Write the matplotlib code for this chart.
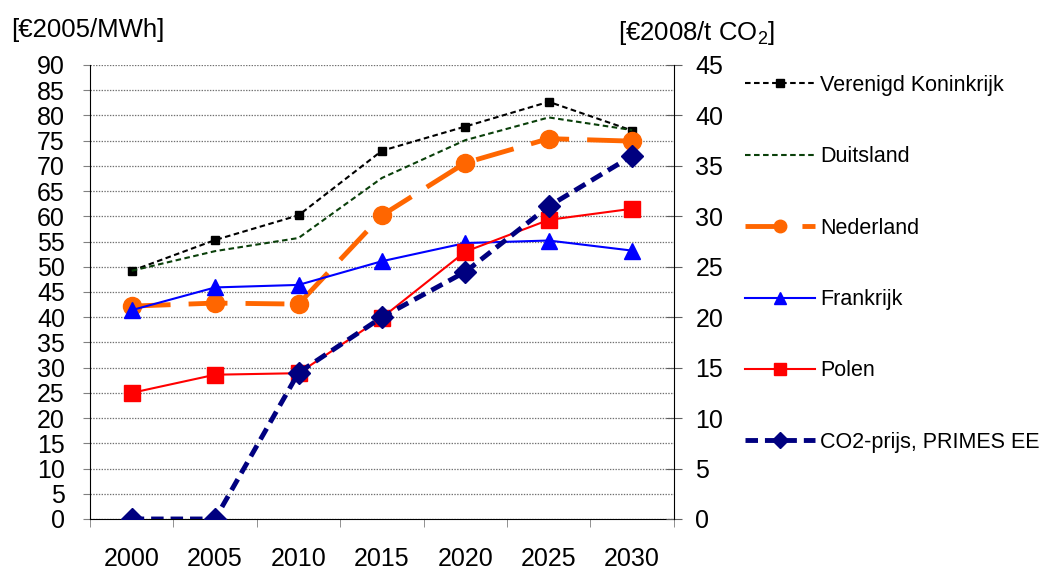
import numpy as np
import matplotlib
matplotlib.use("Agg")
from matplotlib import pyplot as plt

plt.rcParams['font.family'] = ['Liberation Sans', 'DejaVu Sans']
plt.rcParams['mathtext.fontset'] = 'custom'
plt.rcParams['mathtext.rm'] = 'Liberation Sans'
plt.rcParams['lines.scale_dashes'] = False

years = ['2000', '2005', '2010', '2015', '2020', '2025', '2030']

# Electricity prices [EUR2005/MWh], left axis
uk = [49.2, 55.3, 60.2, 73.0, 77.8, 82.7, 77.0]
germany = [49.2, 53.1, 55.7, 67.6, 75.1, 79.6, 77.1]
netherlands = [42.2, 42.8, 42.6, 60.2, 70.6, 75.4, 74.9]
france = [41.4, 45.9, 46.4, 51.1, 54.7, 55.2, 53.2]
poland = [25.0, 28.6, 28.9, 39.9, 53.0, 59.3, 61.5]

# CO2 price [EUR2008/t CO2], right axis
co2_price = [0.0, 0.0, 14.5, 20.0, 24.5, 31.0, 36.0]

x = np.arange(len(years))

fig = plt.figure(figsize=(10.39, 5.72), dpi=100)
ax = fig.add_axes([0.0866, 0.0927, 0.562, 0.7937])
ax2 = ax.twinx()

ax.plot(x, uk, color='black', lw=1.5, dashes=(4, 2.5), marker='s', ms=6,
        label='Verenigd Koninkrijk')
ax.plot(x, germany, color='#0a400a', lw=1.5, dashes=(4, 2.5),
        label='Duitsland')
ax.plot(x, netherlands, color='#ff6600', lw=3.5, dashes=(28, 13), marker='o', ms=13,
        label='Nederland')
ax.plot(x, france, color='#0000ff', lw=1.5, marker='^', ms=12,
        label='Frankrijk')
ax.plot(x, poland, color='#ff0000', lw=1.5, marker='s', ms=11,
        label='Polen')
ax2.plot(x, co2_price, color='#000080', lw=3.5, dashes=(9, 5), marker='D', ms=11,
         label='CO2-prijs, PRIMES EE')

# Left axis
ax.set_xlim(-0.5, len(years) - 0.5)
ax.set_ylim(0, 90)
ax.set_yticks(np.arange(0, 91, 5))
ax.yaxis.grid(True, color='#707070', linestyle=(0, (1, 1)), lw=0.9)
ax.set_axisbelow(True)
ax.tick_params(axis='y', direction='out', length=5, color='#808080', pad=13, labelsize=18)

# Category labels between boundary ticks
ax.set_xticks(x)
ax.set_xticklabels(years)
ax.set_xticks(np.arange(-0.5, len(years), 1), minor=True)
ax.tick_params(axis='x', which='major', length=0, pad=20, labelsize=18)
ax.tick_params(axis='x', which='minor', direction='out', length=6, color='#808080')

for side in ['top', 'right']:
    ax.spines[side].set_visible(False)
ax.spines['left'].set_color('black')
ax.spines['bottom'].set_color('black')

# Right axis
ax2.set_ylim(0, 45)
ax2.set_yticks(np.arange(0, 46, 5))
ax2.tick_params(axis='y', direction='inout', length=11, color='#606060', pad=10, labelsize=18)
for side in ['top', 'left', 'bottom']:
    ax2.spines[side].set_visible(False)
ax2.spines['right'].set_color('black')

fig.text(0.0105, 0.948, '[€2005/MWh]', fontsize=18.5, va='center', ha='left')
fig.text(0.595, 0.943, '[€2008/t CO$_2$]', fontsize=18.5, va='center', ha='left')

handles, labels = ax.get_legend_handles_labels()
h2, l2 = ax2.get_legend_handles_labels()
leg = fig.legend(handles + h2, labels + l2, loc='upper left', bbox_to_anchor=(0.717, 0.869),
                 frameon=False, fontsize=15.5, numpoints=1, handlelength=3.25,
                 handletextpad=0.25, labelspacing=2.34, borderpad=0, borderaxespad=0)
# smaller markers in the legend
for hnd, size in zip(leg.legend_handles, [6, 0, 9, 8, 9, 8]):
    hnd.set_markersize(size)

fig.savefig('out.png', dpi=100)
